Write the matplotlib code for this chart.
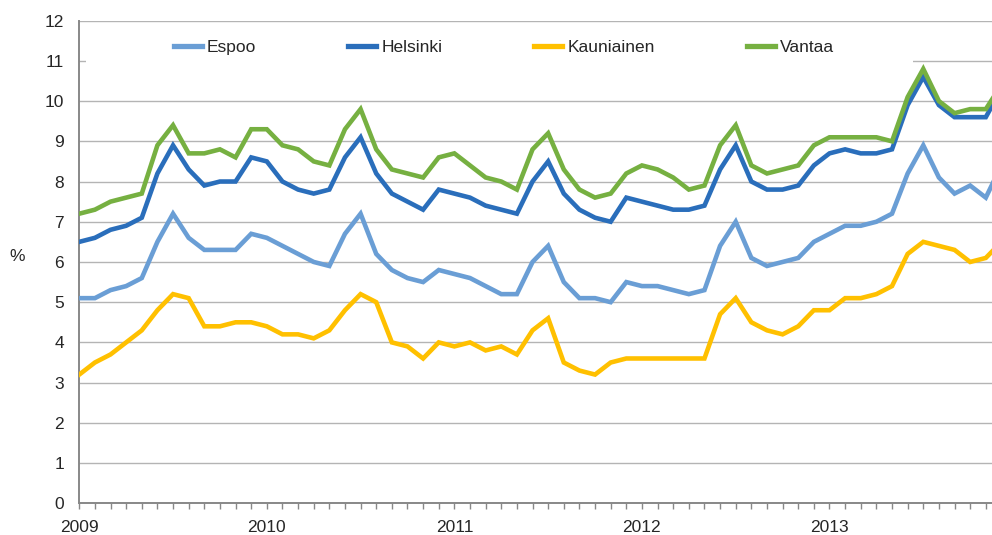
import matplotlib
matplotlib.use("Agg")
import matplotlib.pyplot as plt
from matplotlib.patches import Rectangle
import numpy as np

plt.rcParams['font.family'] = ['Liberation Sans', 'DejaVu Sans']

# monthly values, Jan 2009 .. Dec 2013
years = ['2009', '2010', '2011', '2012', '2013']
espoo = [5.1, 5.1, 5.3, 5.4, 5.6, 6.5, 7.2, 6.6, 6.3, 6.3, 6.3, 6.7,
         6.6, 6.4, 6.2, 6.0, 5.9, 6.7, 7.2, 6.2, 5.8, 5.6, 5.5, 5.8,
         5.7, 5.6, 5.4, 5.2, 5.2, 6.0, 6.4, 5.5, 5.1, 5.1, 5.0, 5.5,
         5.4, 5.4, 5.3, 5.2, 5.3, 6.4, 7.0, 6.1, 5.9, 6.0, 6.1, 6.5,
         6.7, 6.9, 6.9, 7.0, 7.2, 8.2, 8.9, 8.1, 7.7, 7.9, 7.6, 8.4]
helsinki = [6.5, 6.6, 6.8, 6.9, 7.1, 8.2, 8.9, 8.3, 7.9, 8.0, 8.0, 8.6,
            8.5, 8.0, 7.8, 7.7, 7.8, 8.6, 9.1, 8.2, 7.7, 7.5, 7.3, 7.8,
            7.7, 7.6, 7.4, 7.3, 7.2, 8.0, 8.5, 7.7, 7.3, 7.1, 7.0, 7.6,
            7.5, 7.4, 7.3, 7.3, 7.4, 8.3, 8.9, 8.0, 7.8, 7.8, 7.9, 8.4,
            8.7, 8.8, 8.7, 8.7, 8.8, 9.9, 10.6, 9.9, 9.6, 9.6, 9.6, 10.3]
kauniainen = [3.2, 3.5, 3.7, 4.0, 4.3, 4.8, 5.2, 5.1, 4.4, 4.4, 4.5, 4.5,
              4.4, 4.2, 4.2, 4.1, 4.3, 4.8, 5.2, 5.0, 4.0, 3.9, 3.6, 4.0,
              3.9, 4.0, 3.8, 3.9, 3.7, 4.3, 4.6, 3.5, 3.3, 3.2, 3.5, 3.6,
              3.6, 3.6, 3.6, 3.6, 3.6, 4.7, 5.1, 4.5, 4.3, 4.2, 4.4, 4.8,
              4.8, 5.1, 5.1, 5.2, 5.4, 6.2, 6.5, 6.4, 6.3, 6.0, 6.1, 6.5]
vantaa = [7.2, 7.3, 7.5, 7.6, 7.7, 8.9, 9.4, 8.7, 8.7, 8.8, 8.6, 9.3,
          9.3, 8.9, 8.8, 8.5, 8.4, 9.3, 9.8, 8.8, 8.3, 8.2, 8.1, 8.6,
          8.7, 8.4, 8.1, 8.0, 7.8, 8.8, 9.2, 8.3, 7.8, 7.6, 7.7, 8.2,
          8.4, 8.3, 8.1, 7.8, 7.9, 8.9, 9.4, 8.4, 8.2, 8.3, 8.4, 8.9,
          9.1, 9.1, 9.1, 9.1, 9.0, 10.1, 10.8, 10.0, 9.7, 9.8, 9.8, 10.4]

series = [('Espoo', espoo, '#6A9ED5'),
          ('Helsinki', helsinki, '#2A6EBB'),
          ('Kauniainen', kauniainen, '#FFC000'),
          ('Vantaa', vantaa, '#76B041')]

months = np.arange(len(espoo))
fs = 12.5

fig = plt.figure(figsize=(9.92, 5.35), dpi=100)
# plot area runs past the right edge, as in the cropped original
ax = fig.add_axes([0.0799, 0.0593, 0.9296, 0.9021])

for name, vals, col in series:
    ax.plot(months, vals, color=col, lw=3.3, label=name, zorder=3,
            solid_joinstyle='miter')

ax.set_xlim(0, len(espoo) - 1)
ax.set_ylim(0, 12)
ax.set_yticks(range(0, 13))
ax.grid(axis='y', color='#B4B4B4', lw=1.0, zorder=0)
ax.set_axisbelow(True)

ax.set_xticks(months)
ax.set_xticklabels([years[i // 12] if i % 12 == 0 else '' for i in months])
ax.tick_params(axis='x', direction='out', length=4, width=1, color='#888888',
               pad=8, labelsize=fs, labelcolor='#262626')
ax.tick_params(axis='y', length=0, pad=11, labelsize=fs, labelcolor='#262626')

for s in ['top', 'right']:
    ax.spines[s].set_visible(False)
for s in ['left', 'bottom']:
    ax.spines[s].set_color('#888888')
    ax.spines[s].set_linewidth(1.4)

# white legend area hiding the 11 gridline
ax.add_patch(Rectangle((0.0073, 0.86), 0.897, 0.11, transform=ax.transAxes,
                       facecolor='white', edgecolor='none', zorder=1))

leg = ax.legend(loc='center left', bbox_to_anchor=(174 / 992, 1 - 47.7 / 535),
                bbox_transform=fig.transFigure, ncol=4, frameon=False,
                fontsize=fs, handlelength=1.6, handletextpad=0.3,
                columnspacing=5.3, borderpad=0, borderaxespad=0)
for t in leg.get_texts():
    t.set_color('#262626')
for h in leg.get_lines():
    h.set_linewidth(3.8)

fig.text(17.5 / 992, 1 - 256.7 / 535, '%', ha='center', va='center',
         fontsize=fs, color='#262626')

fig.savefig('out.png', dpi=100)
